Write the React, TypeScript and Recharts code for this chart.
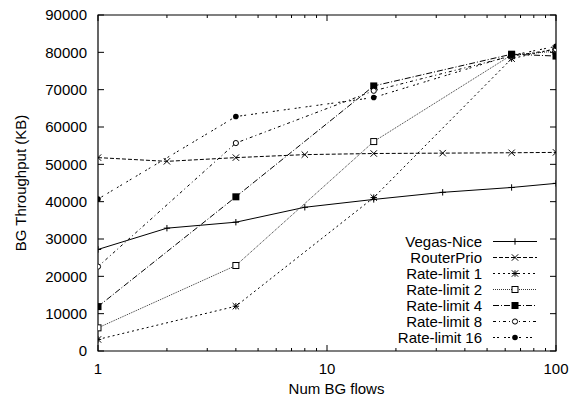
import React from 'react';
import { LineChart, Line, XAxis, YAxis, ReferenceArea, Legend } from 'recharts';

// ---- data ----
const allFlows = [1, 2, 4, 8, 16, 32, 64, 100];
const rlFlows = [1, 4, 16, 64, 100];

const vegasNice = [27200, 32900, 34500, 38500, 40600, 42500, 43800, 44900];
const routerPrio = [51800, 50800, 51800, 52600, 52900, 53000, 53100, 53200];
const rateLimit1 = [3100, 12000, 41100, 78300, 81000];
const rateLimit2 = [6200, 22900, 56100, 79300, 80300];
const rateLimit4 = [11900, 41300, 71000, 79500, 79000];
const rateLimit8 = [22600, 55700, 69700, 79000, 80800];
const rateLimit16 = [40700, 62800, 67900, 79200, 81600];

const xTicks = [1, 2, 3, 4, 5, 6, 7, 8, 9, 10, 20, 30, 40, 50, 60, 70, 80, 90, 100];
const xMajor = [1, 10, 100];
const yTicks = [0, 10000, 20000, 30000, 40000, 50000, 60000, 70000, 80000, 90000];

const toPts = (xs: number[], ys: number[]) => xs.map((x, i) => ({ x, y: ys[i] }));

// ---- layout ----
const W = 579;
const H = 403;
const MARGIN = { top: 15, right: 23, bottom: 0, left: 0 };
const Y_AXIS_W = 98;
const X_AXIS_H = 52;
const PLOT_W = W - MARGIN.left - MARGIN.right - Y_AXIS_W;
const PLOT_H = H - MARGIN.top - MARGIN.bottom - X_AXIS_H;
const FONT = '"Liberation Sans", Arial, Helvetica, sans-serif';

type MarkerKind = 'plus' | 'cross' | 'star' | 'square' | 'fsquare' | 'circle' | 'fcircle';

const Marker = ({ cx, cy, kind }: { cx: number; cy: number; kind: MarkerKind }) => {
  if (cx == null || cy == null || isNaN(cx) || isNaN(cy)) return null;
  const s = 3.2;
  switch (kind) {
    case 'plus':
      return (
        <g stroke="#000" strokeWidth={1}>
          <line x1={cx - s} x2={cx + s} y1={cy} y2={cy} />
          <line x1={cx} x2={cx} y1={cy - s} y2={cy + s} />
        </g>
      );
    case 'cross':
      return (
        <g stroke="#000" strokeWidth={1}>
          <line x1={cx - s} x2={cx + s} y1={cy - s} y2={cy + s} />
          <line x1={cx - s} x2={cx + s} y1={cy + s} y2={cy - s} />
        </g>
      );
    case 'star':
      return (
        <g stroke="#000" strokeWidth={1}>
          <line x1={cx - s} x2={cx + s} y1={cy - s} y2={cy + s} />
          <line x1={cx - s} x2={cx + s} y1={cy + s} y2={cy - s} />
          <line x1={cx - s} x2={cx + s} y1={cy} y2={cy} />
          <line x1={cx} x2={cx} y1={cy - s} y2={cy + s} />
        </g>
      );
    case 'square':
      return <rect x={cx - 3} y={cy - 3} width={6} height={6} fill="#fff" stroke="#000" strokeWidth={1} />;
    case 'fsquare':
      return <rect x={cx - 3.5} y={cy - 3.5} width={7} height={7} fill="#000" stroke="none" />;
    case 'circle':
      return <circle cx={cx} cy={cy} r={2.6} fill="#fff" stroke="#000" strokeWidth={1} />;
    case 'fcircle':
      return <circle cx={cx} cy={cy} r={2.8} fill="#000" stroke="none" />;
  }
  return null;
};

const series = [
  { name: 'Vegas-Nice', data: toPts(allFlows, vegasNice), dash: undefined, marker: 'plus' as MarkerKind, stroke: '#000' },
  { name: 'RouterPrio', data: toPts(allFlows, routerPrio), dash: '4 2', marker: 'cross' as MarkerKind, stroke: '#000' },
  { name: 'Rate-limit 1', data: toPts(rlFlows, rateLimit1), dash: '2 3', marker: 'star' as MarkerKind, stroke: '#000' },
  { name: 'Rate-limit 2', data: toPts(rlFlows, rateLimit2), dash: '1 1', marker: 'square' as MarkerKind, stroke: '#333' },
  { name: 'Rate-limit 4', data: toPts(rlFlows, rateLimit4), dash: '6 2 1 2', marker: 'fsquare' as MarkerKind, stroke: '#000' },
  { name: 'Rate-limit 8', data: toPts(rlFlows, rateLimit8), dash: '3 3 1 3', marker: 'circle' as MarkerKind, stroke: '#000' },
  { name: 'Rate-limit 16', data: toPts(rlFlows, rateLimit16), dash: '2 2 2 5', marker: 'fcircle' as MarkerKind, stroke: '#000' },
];

const XTick = (props: any) => {
  const { x, y, payload } = props;
  const v = payload.value;
  const major = xMajor.includes(v);
  const len = major ? 6 : 3;
  return (
    <g>
      <line x1={x} x2={x} y1={y} y2={y - len} stroke="#000" strokeWidth={1} />
      <line x1={x} x2={x} y1={y - PLOT_H} y2={y - PLOT_H + len} stroke="#000" strokeWidth={1} />
      {major && (
        <text x={x} y={y + 23} textAnchor="middle" fontFamily={FONT} fontSize={15} fill="#000">
          {v}
        </text>
      )}
    </g>
  );
};

const YTick = (props: any) => {
  const { x, y, payload } = props;
  return (
    <g>
      <line x1={x} x2={x + 6} y1={y} y2={y} stroke="#000" strokeWidth={1} />
      <line x1={x + PLOT_W} x2={x + PLOT_W - 6} y1={y} y2={y} stroke="#000" strokeWidth={1} />
      <text x={x - 11} y={y + 5.4} textAnchor="end" fontFamily={FONT} fontSize={15} fill="#000">
        {payload.value}
      </text>
    </g>
  );
};

const YLabel = (props: any) => {
  const vb = props.viewBox || { x: 0, y: MARGIN.top, width: Y_AXIS_W, height: PLOT_H };
  const cx = vb.x + 25.5;
  const cy = vb.y + vb.height / 2;
  return (
    <text
      x={cx}
      y={cy}
      transform={`rotate(-90, ${cx}, ${cy})`}
      textAnchor="middle"
      fontFamily={FONT}
      fontSize={15}
      fill="#000"
    >
      BG Throughput (KB)
    </text>
  );
};

const XLabel = (props: any) => {
  const vb = props.viewBox || { x: Y_AXIS_W, y: MARGIN.top + PLOT_H, width: PLOT_W, height: X_AXIS_H };
  return (
    <text
      x={vb.x + vb.width / 2 + 9.5}
      y={vb.y + 43}
      textAnchor="middle"
      fontFamily={FONT}
      fontSize={15}
      fill="#000"
    >
      Num BG flows
    </text>
  );
};

const LegendContent = () => {
  const rowH = 16;
  return (
    <svg width={180} height={120} style={{ display: 'block', overflow: 'visible' }}>
      {series.map((s, i) => {
        const cy = 11.5 + i * rowH;
        return (
          <g key={s.name}>
            <text x={102} y={cy + 5.4} textAnchor="end" fontFamily={FONT} fontSize={15} fill="#000">
              {s.name}
            </text>
            <line x1={113} x2={157} y1={cy} y2={cy} stroke={s.stroke} strokeWidth={1} strokeDasharray={s.dash} />
            <Marker cx={135} cy={cy} kind={s.marker} />
          </g>
        );
      })}
    </svg>
  );
};

export default function App() {
  return (
    <div style={{ position: 'absolute', left: 0, top: 0, width: W, height: H, background: '#fff' }}>
      <LineChart width={W} height={H} margin={MARGIN}>
        <XAxis
          dataKey="x"
          type="number"
          scale="log"
          domain={[1, 100]}
          ticks={xTicks}
          interval={0}
          allowDataOverflow
          height={X_AXIS_H}
          axisLine={false}
          tickLine={false}
          tickSize={0}
          tickMargin={0}
          tick={<XTick />}
          label={<XLabel />}
        />
        <YAxis
          type="number"
          domain={[0, 90000]}
          ticks={yTicks}
          interval={0}
          width={Y_AXIS_W}
          axisLine={false}
          tickLine={false}
          tickSize={0}
          tickMargin={0}
          tick={<YTick />}
          label={<YLabel />}
        />
        <ReferenceArea x1={1} x2={100} y1={0} y2={90000} fill="none" stroke="#000" strokeWidth={1.2} fillOpacity={0} />
        {series.map((s) => (
          <Line
            key={s.name}
            data={s.data}
            dataKey="y"
            name={s.name}
            type="linear"
            stroke={s.stroke}
            strokeWidth={1}
            strokeDasharray={s.dash}
            isAnimationActive={false}
            dot={(p: any) => <Marker key={`${s.name}-${p.index}`} cx={p.cx} cy={p.cy} kind={s.marker} />}
            activeDot={false}
          />
        ))}
        <Legend
          layout="vertical"
          align="center"
          verticalAlign="middle"
          content={<LegendContent />}
          wrapperStyle={{ left: 380, top: 230, width: 180, height: 120 }}
        />
      </LineChart>
    </div>
  );
}
